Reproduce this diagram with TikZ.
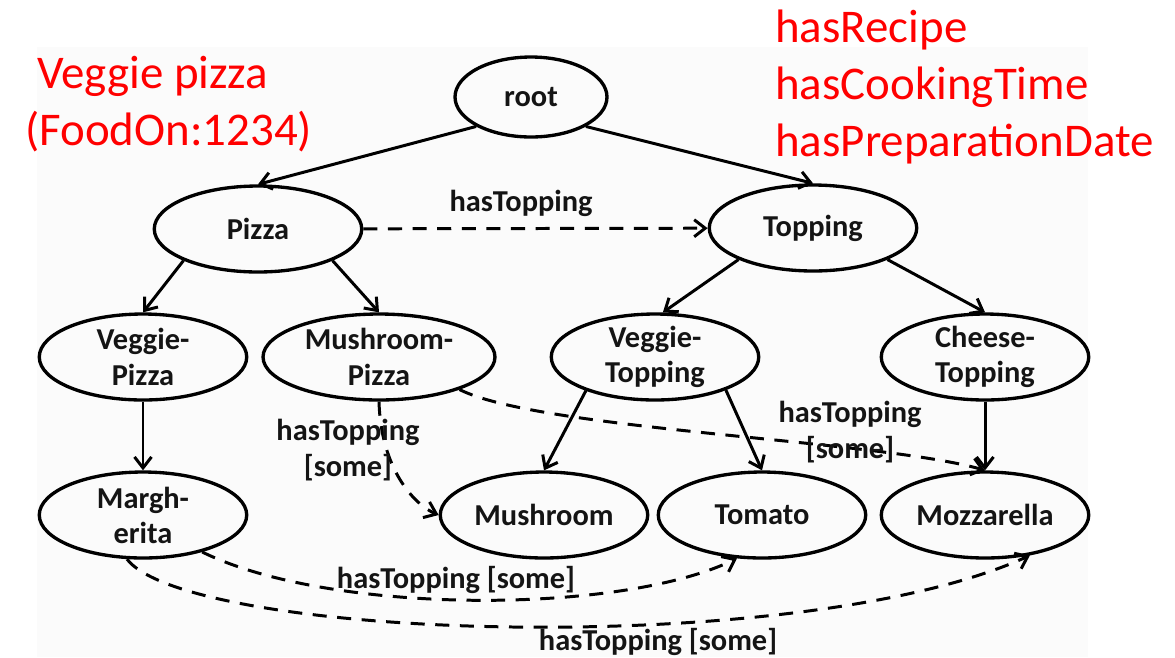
\documentclass[tikz,border=0pt]{standalone}
\usepackage{fontspec}
\setmainfont{Carlito}
\usepackage{tikz}
\usetikzlibrary{
  shapes.geometric,
  arrows.meta
}
\definecolor{notecolor}{RGB}{255, 0, 0}
\definecolor{edgecolor}{RGB}{0, 0, 0}
\definecolor{labelcolor}{RGB}{20, 20, 20}
\definecolor{bgpanel}{RGB}{251, 251, 251}
\tikzset{
classtext/.style={
  font=\fontsize{17.3pt}{20pt}\selectfont\bfseries,
  text=labelcolor,
  align=center
},
classnode/.style={
  ellipse,
  draw=edgecolor,
  line width=1.9pt,
  minimum width=4.15cm,
  minimum height=1.72cm,
  inner sep=-8pt,
  classtext
},
edgelabel/.style={
  classtext,
  inner sep=0pt
},
notelabel/.style={
  font=\fontsize{26.7pt}{32.3pt}\selectfont,
  text=notecolor,
  align=left,
  inner sep=0pt
},
arrow/.style={
  -{Straight Barb[length=2.2mm,width=3.4mm]},
  line width=1.7pt,
  draw=edgecolor
},
dashedarrow/.style={
  arrow,
  dash pattern=on 8pt off 6pt
}
}

\begin{document}
\begin{tikzpicture}[x=0.02cm, y=-0.02cm]
  \useasboundingbox (0,0) rectangle (1175,657);
  \fill[bgpanel] (37,47) rectangle (1088,657);

  % Classes
  \node[classnode, minimum width=3.04cm, minimum height=1.6cm] (root) at (531,97) {root};
  \node[classnode] (pizza) at (258,229) {Pizza};
  \node[classnode] (topping) at (813,228) {Topping};
  \node[classnode] (vpizza) at (143,357) {Veggie-\\Pizza};
  \node[classnode, minimum width=4.64cm] (mpizza) at (379,357) {Mushroom-\\Pizza};
  \node[classnode] (vtop) at (655,357) {Veggie-\\Topping};
  \node[classnode] (ctop) at (985,357) {Cheese-\\Topping};
  \node[classnode] (marg) at (143,515) {Margh-\\erita};
  \node[classnode] (mush) at (544,515) {Mushroom};
  \node[classnode] (tomato) at (762,515) {Tomato};
  \node[classnode] (mozz) at (985,515) {Mozzarella};

  % Subclass arrows
  \draw[arrow] (root.south west) -- (pizza.north);
  \draw[arrow] (root.south east) -- (topping.north);
  \draw[arrow] (pizza.south west) -- (vpizza.north);
  \draw[arrow] (pizza.south east) -- (mpizza.north);
  \draw[arrow] (topping.south west) -- (vtop.80);
  \draw[arrow] (topping.south east) -- (ctop.north);
  \draw[arrow] (vpizza) -- (marg);
  \draw[arrow] (vtop.206) -- (mush.north);
  \draw[arrow] (vtop.-25) -- (tomato.north);
  \draw[arrow] (ctop) -- (mozz);

  % hasTopping relations
  \draw[dashedarrow] (pizza) -- (topping);
  \node[edgelabel] (lblpt) at (521,203) {hasTopping};
  \draw[dashedarrow] (mpizza.south) .. controls (381,470) and (415,505) .. (mush.west);
  \node[edgelabel] (lblmm) at (348,450) {hasTopping\\{}[some]};
  \draw[dashedarrow] (mpizza.-22) .. controls (540,430) and (880,440) .. (mozz.north);
  \node[edgelabel] (lblmz) at (850,432) {hasTopping\\{}[some]};
  \draw[dashedarrow] (marg.-32) .. controls (330,615) and (620,615) .. (tomato.-120);
  \node[edgelabel] (lblmt) at (456,580) {hasTopping [some]};
  \draw[dashedarrow] (marg.-110) .. controls (190,640) and (800,660) .. (mozz.-42);
  \node[edgelabel] (lblmo) at (658,642) {hasTopping [some]};

  % Red notes
  \node[notelabel, anchor=north west] (foodid) at (25,56) {\hspace*{0.25em}Veggie pizza\\(FoodOn:1234)};
  \node[notelabel, anchor=north west] (props) at (775,10) {hasRecipe\\hasCookingTime\\hasPreparationDate};
\end{tikzpicture}
\end{document}
